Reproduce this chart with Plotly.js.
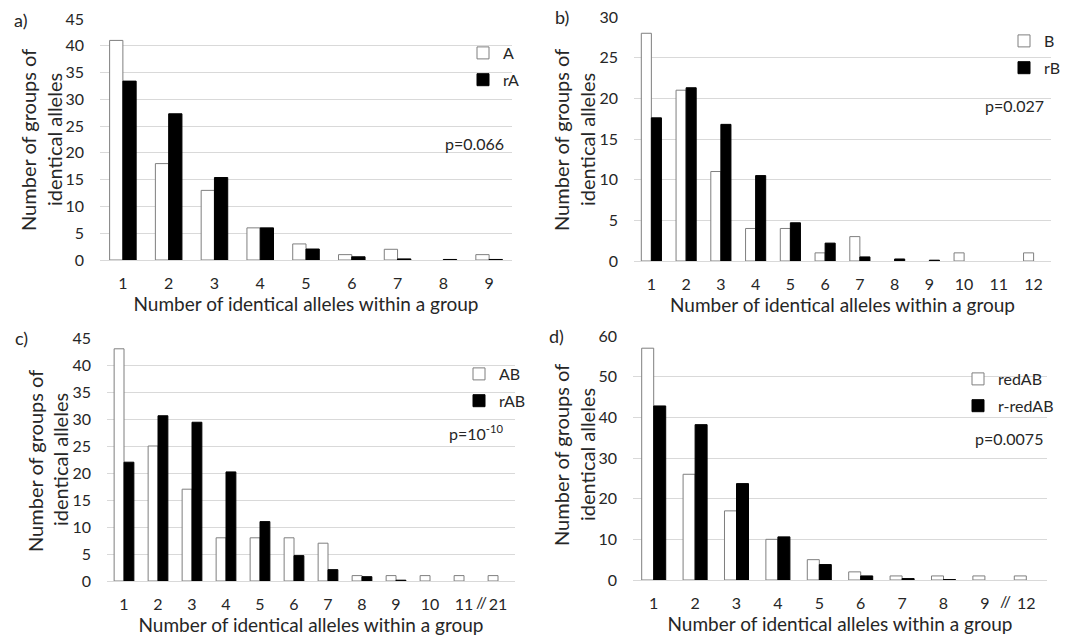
<!DOCTYPE html>
<html>
<head>
<meta charset="utf-8">
<script src="https://cdn.plot.ly/plotly-3.0.1.min.js"></script>
<style>html,body{margin:0;padding:0;background:#fff;}#chart{width:1077px;height:636px;}</style>
</head>
<body>
<div id="chart"></div>
<script>
// ---- Data ----
const catsA = ['1','2','3','4','5','6','7','8','9'];
const valA  = [41, 18, 13, 6, 3, 1, 2, 0, 1];
const valRA = [33.4, 27.3, 15.4, 6, 2.05, 0.6, 0.2, 0.1, 0.1];

const catsB = ['1','2','3','4','5','6','7','8','9','10','11','12'];
const valB  = [28, 21, 11, 4, 4, 1, 3, 0, 0, 1, 0, 1];
const valRB = [17.6, 21.3, 16.8, 10.5, 4.7, 2.2, 0.5, 0.25, 0.1, 0, 0, 0];

const catsC = ['1','2','3','4','5','6','7','8','9','10','11','21'];
const valAB  = [43, 25, 17, 8, 8, 8, 7, 1, 1, 1, 1, 1];
const valRAB = [22, 30.6, 29.4, 20.2, 11, 4.7, 2.1, 0.8, 0.15, 0, 0, 0];

const catsD = ['1','2','3','4','5','6','7','8','9','12'];
const valRedAB  = [57, 26, 17, 10, 5, 2, 1, 1, 1, 1];
const valRRedAB = [42.8, 38.2, 23.7, 10.6, 3.8, 1.0, 0.35, 0.1, 0, 0];

const namesA = ['A', 'rA'];
const namesB = ['B', 'rB'];
const namesC = ['AB', 'rAB'];
const namesD = ['redAB', 'r-redAB'];
const pTexts = ['p=0.066', 'p=0.027', 'p=10<sup>-10</sup>', 'p=0.0075'];
const panelLabels = ['a)', 'b)', 'c)', 'd)'];
const xTitle = 'Number of identical alleles within a group';
const yTitleLines = ['Number of groups of', 'identical alleles'];

// ---- Styling ----
const FONT = 'Lato, "Open Sans", sans-serif';
const TXT = '#262626';
const W = 1077, H = 636;
const whiteBar = {color: '#ffffff', line: {color: '#7f7f7f', width: 1}};
const blackBar = {color: '#000000', line: {color: '#000000', width: 1}};

// zero counts draw no bar at all (as in the reference)
const nz = arr => arr.map(v => (v === 0 ? null : v));

function pair(cats, v1, v2, names, ax, leg) {
  return [
    {type: 'bar', x: cats, y: nz(v1), name: names[0], marker: whiteBar,
     xaxis: 'x' + ax, yaxis: 'y' + ax, legend: leg, legendgroup: leg + 'a'},
    {type: 'bar', x: cats, y: nz(v2), name: names[1], marker: blackBar,
     xaxis: 'x' + ax, yaxis: 'y' + ax, legend: leg, legendgroup: leg + 'b'}
  ];
}

const data = [].concat(
  pair(catsA, valA, valRA, namesA, '', 'legend'),
  pair(catsB, valB, valRB, namesB, '2', 'legend2'),
  pair(catsC, valAB, valRAB, namesC, '3', 'legend3'),
  pair(catsD, valRedAB, valRRedAB, namesD, '4', 'legend4')
);

function px(x) { return x / W; }
function py(y) { return 1 - y / H; }

function xa(domain, anchor) {
  return {domain: domain, anchor: anchor, type: 'category',
    showgrid: false, showline: true, linecolor: '#d9d9d9', linewidth: 1,
    ticks: '', ticklabelstandoff: 9,
    tickfont: {family: FONT, size: 16, color: TXT},
    title: {text: xTitle, font: {family: FONT, size: 19, color: TXT}, standoff: 3},
    fixedrange: true};
}
function ya(domain, anchor, max, dt) {
  return {domain: domain, anchor: anchor, range: [0, max], dtick: dt,
    showgrid: true, gridcolor: '#d9d9d9', gridwidth: 1, zeroline: false,
    showline: false, ticks: '', ticklabelstandoff: 15,
    tickfont: {family: FONT, size: 16, color: TXT},
    fixedrange: true};
}

function legendAt(x, y) {
  return {x: px(x), y: py(y), xanchor: 'left', yanchor: 'top',
    bgcolor: 'rgba(0,0,0,0)', borderwidth: 0, itemwidth: 30,
    font: {family: FONT, size: 16, color: TXT}, tracegroupgap: 3};
}

function ann(text, x, y, size) {
  return {text: text, xref: 'paper', yref: 'paper', x: px(x), y: py(y),
    xanchor: 'left', yanchor: 'middle', showarrow: false,
    font: {family: FONT, size: size || 16, color: TXT}};
}
function yTitleAnn(text, x, y) {
  return {text: text, xref: 'paper', yref: 'paper', x: px(x), y: py(y),
    xanchor: 'center', yanchor: 'middle', textangle: -90, showarrow: false,
    font: {family: FONT, size: 20, color: TXT}};
}
function slash(xref, xpos, y) {
  return {text: '//', xref: xref, yref: 'paper', x: xpos, y: py(y),
    xanchor: 'center', yanchor: 'middle', showarrow: false,
    font: {family: FONT, size: 16, color: TXT}};
}

const layout = {
  width: W, height: H,
  margin: {l: 0, r: 0, t: 0, b: 0},
  paper_bgcolor: '#ffffff', plot_bgcolor: '#ffffff',
  barmode: 'group', bargap: 0.42, bargroupgap: 0,
  showlegend: true,
  font: {family: FONT, color: TXT},
  xaxis:  xa([px(100), px(512)], 'y'),
  yaxis:  ya([py(260), py(19)], 'x', 45, 5),
  xaxis2: xa([px(634), px(1051)], 'y2'),
  yaxis2: ya([py(261), py(17)], 'x2', 30, 5),
  xaxis3: xa([px(107), px(515)], 'y3'),
  yaxis3: ya([py(581), py(338)], 'x3', 45, 5),
  xaxis4: xa([px(633), px(1047)], 'y4'),
  yaxis4: ya([py(580), py(336)], 'x4', 60, 10),
  legend:  legendAt(463, 36),
  legend2: legendAt(1004, 24),
  legend3: legendAt(459, 357),
  legend4: legendAt(958, 362),
  annotations: [
    ann(panelLabels[0], 12, 20, 18),
    ann(panelLabels[1], 553, 17, 18),
    ann(panelLabels[2], 13, 338, 18),
    ann(panelLabels[3], 547, 336, 18),
    ann(pTexts[0], 443, 143),
    ann(pTexts[1], 983, 105),
    ann(pTexts[2], 447, 432),
    ann(pTexts[3], 973, 438),
    yTitleAnn(yTitleLines[0], 28, 140),
    yTitleAnn(yTitleLines[1], 54, 140),
    yTitleAnn(yTitleLines[0], 561, 140),
    yTitleAnn(yTitleLines[1], 587, 140),
    yTitleAnn(yTitleLines[0], 35, 461),
    yTitleAnn(yTitleLines[1], 60, 460),
    yTitleAnn(yTitleLines[0], 561, 455),
    yTitleAnn(yTitleLines[1], 587, 455),
    slash('x3', 10.5, 601),
    slash('x4', 8.5, 600)
  ]
};

Plotly.newPlot('chart', data, layout, {displayModeBar: false, staticPlot: true});
</script>
</body>
</html>
